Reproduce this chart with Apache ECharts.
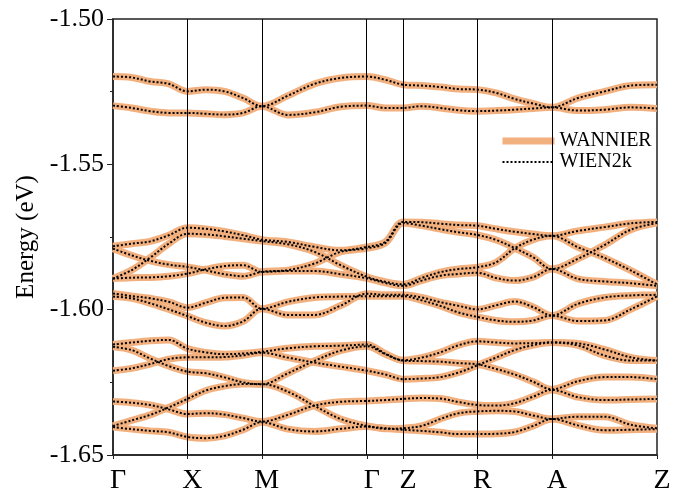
<!DOCTYPE html>
<html>
<head>
<meta charset="utf-8">
<script src="https://cdn.jsdelivr.net/npm/echarts@6/dist/echarts.min.js"></script>
</head>
<body style="margin:0">
<div id="main" style="width:678px;height:495px"></div>
<script>
// high symmetry points along the path
const kLabels = ['Γ', 'X', 'M', 'Γ', 'Z', 'R', 'A', 'Z'];
const kPoints = [0, 1, 2, 3.414, 3.9, 4.9, 5.9, 7.314];
// k sampling used for every band
const kPath = [0, 0.25, 0.5, 0.75, 1, 1.25, 1.5, 1.75, 2, 2.35, 2.71, 3.06, 3.414, 3.66, 3.9,
    4.15, 4.4, 4.65, 4.9, 5.15, 5.4, 5.65, 5.9, 6.25, 6.61, 6.96, 7.314];

// energies (eV)
const topBand1 = [-1.5198, -1.5201, -1.5215, -1.5223, -1.5249, -1.5243, -1.5249, -1.5272, -1.5300, -1.5264, -1.5223, -1.5203, -1.5198, -1.5209, -1.5226, -1.5229, -1.5234, -1.5241, -1.5243, -1.5254, -1.5275, -1.5291, -1.5304, -1.5272, -1.5249, -1.5229, -1.5226];
const topBand2 = [-1.5298, -1.5306, -1.5317, -1.5323, -1.5323, -1.5326, -1.5329, -1.5323, -1.5300, -1.5330, -1.5321, -1.5302, -1.5298, -1.5306, -1.5306, -1.5300, -1.5306, -1.5314, -1.5317, -1.5315, -1.5312, -1.5308, -1.5304, -1.5315, -1.5312, -1.5304, -1.5308];

const midBand1 = [-1.5782, -1.5773, -1.5765, -1.5744, -1.5718, -1.5722, -1.5731, -1.5744, -1.5759, -1.5767, -1.5784, -1.5796, -1.5784, -1.5767, -1.5698, -1.5699, -1.5704, -1.5709, -1.5711, -1.5722, -1.5732, -1.5740, -1.5746, -1.5729, -1.5716, -1.5703, -1.5698];
const midBand2 = [-1.5790, -1.5813, -1.5832, -1.5845, -1.5853, -1.5865, -1.5878, -1.5885, -1.5870, -1.5864, -1.5841, -1.5801, -1.5789, -1.5771, -1.5702, -1.5711, -1.5723, -1.5734, -1.5743, -1.5760, -1.5788, -1.5820, -1.5860, -1.5825, -1.5777, -1.5725, -1.5702];
const midBand3 = [-1.5893, -1.5864, -1.5821, -1.5773, -1.5739, -1.5741, -1.5748, -1.5756, -1.5764, -1.5775, -1.5801, -1.5847, -1.5887, -1.5904, -1.5913, -1.5891, -1.5871, -1.5860, -1.5854, -1.5837, -1.5789, -1.5759, -1.5746, -1.5785, -1.5822, -1.5865, -1.5913];
const midBand4 = [-1.5893, -1.5890, -1.5889, -1.5885, -1.5876, -1.5861, -1.5850, -1.5847, -1.5870, -1.5867, -1.5867, -1.5878, -1.5892, -1.5908, -1.5918, -1.5900, -1.5883, -1.5877, -1.5873, -1.5891, -1.5900, -1.5888, -1.5860, -1.5894, -1.5903, -1.5909, -1.5918];
const midBand5 = [-1.5944, -1.5953, -1.5961, -1.5973, -1.5993, -1.5976, -1.5959, -1.5958, -1.5997, -1.5973, -1.5958, -1.5955, -1.5954, -1.5954, -1.5954, -1.5968, -1.5987, -1.6010, -1.6025, -1.6037, -1.6042, -1.6037, -1.6020, -1.6039, -1.6037, -1.5999, -1.5954];
const midBand6 = [-1.5955, -1.5961, -1.5978, -1.5999, -1.6022, -1.6045, -1.6056, -1.6040, -1.5997, -1.6018, -1.6018, -1.5986, -1.5945, -1.5949, -1.5949, -1.5958, -1.5974, -1.5987, -1.5999, -1.5985, -1.5972, -1.5991, -1.6020, -1.5980, -1.5958, -1.5951, -1.5949];

const lowBand1 = [-1.6120, -1.6113, -1.6107, -1.6104, -1.6134, -1.6147, -1.6153, -1.6151, -1.6145, -1.6133, -1.6126, -1.6124, -1.6120, -1.6151, -1.6174, -1.6165, -1.6147, -1.6122, -1.6109, -1.6113, -1.6116, -1.6115, -1.6113, -1.6116, -1.6137, -1.6164, -1.6175];
const lowBand2 = [-1.6128, -1.6139, -1.6168, -1.6194, -1.6213, -1.6219, -1.6233, -1.6250, -1.6257, -1.6219, -1.6176, -1.6141, -1.6126, -1.6153, -1.6175, -1.6177, -1.6179, -1.6184, -1.6188, -1.6204, -1.6223, -1.6248, -1.6274, -1.6246, -1.6232, -1.6232, -1.6239];
const lowBand3 = [-1.6210, -1.6202, -1.6187, -1.6170, -1.6164, -1.6164, -1.6163, -1.6157, -1.6148, -1.6165, -1.6182, -1.6196, -1.6210, -1.6223, -1.6239, -1.6237, -1.6232, -1.6216, -1.6191, -1.6165, -1.6139, -1.6122, -1.6113, -1.6123, -1.6158, -1.6175, -1.6175];
const lowBand4 = [-1.6316, -1.6320, -1.6328, -1.6343, -1.6359, -1.6356, -1.6361, -1.6373, -1.6385, -1.6362, -1.6330, -1.6317, -1.6314, -1.6311, -1.6307, -1.6304, -1.6306, -1.6318, -1.6328, -1.6330, -1.6322, -1.6299, -1.6276, -1.6301, -1.6311, -1.6309, -1.6307];
const lowBand5 = [-1.6400, -1.6381, -1.6362, -1.6336, -1.6307, -1.6278, -1.6263, -1.6256, -1.6256, -1.6282, -1.6331, -1.6376, -1.6400, -1.6408, -1.6413, -1.6417, -1.6422, -1.6428, -1.6428, -1.6427, -1.6421, -1.6400, -1.6376, -1.6398, -1.6415, -1.6413, -1.6411];
const lowBand6 = [-1.6404, -1.6411, -1.6417, -1.6422, -1.6438, -1.6442, -1.6434, -1.6413, -1.6387, -1.6411, -1.6419, -1.6410, -1.6402, -1.6410, -1.6408, -1.6400, -1.6376, -1.6356, -1.6350, -1.6348, -1.6350, -1.6364, -1.6376, -1.6368, -1.6368, -1.6396, -1.6408];

const bands = [topBand1, topBand2, midBand1, midBand2, midBand3, midBand4, midBand5, midBand6,
    lowBand1, lowBand2, lowBand3, lowBand4, lowBand5, lowBand6];

const serif = "'Liberation Serif', serif";
var chart = echarts.init(document.getElementById('main'));

var series = [];
bands.forEach(function (b) {
    series.push({
        name: 'WANNIER',
        type: 'line',
        symbol: 'none',
        smooth: 0.35,
        z: 2,
        lineStyle: {color: '#F2B07F', width: 7},
        itemStyle: {color: '#F2B07F'},
        data: kPath.map(function (k, i) { return [k, b[i]]; })
    });
});
bands.forEach(function (b) {
    series.push({
        name: 'WIEN2k',
        type: 'line',
        symbol: 'none',
        smooth: 0.35,
        z: 3,
        lineStyle: {color: '#000', width: 2, type: [2, 2]},
        itemStyle: {color: '#000'},
        data: kPath.map(function (k, i) { return [k, b[i]]; })
    });
});
// vertical lines at the high symmetry points
series[0].markLine = {
    silent: true,
    symbol: 'none',
    label: {show: false},
    lineStyle: {color: '#000', width: 1, type: 'solid'},
    data: kPoints.slice(1, -1).map(function (v) { return {xAxis: v}; })
};

chart.setOption({
    animation: false,
    grid: {left: 113, right: 21, top: 19, bottom: 38, show: true, borderColor: '#222', borderWidth: 1.5},
    legend: {
        data: ['WANNIER', 'WIEN2k'],
        orient: 'vertical',
        left: 494,
        top: 126,
        itemWidth: 52,
        itemHeight: 12,
        itemGap: 1,
        itemStyle: {opacity: 0},
        lineStyle: {width: 'inherit'},
        textStyle: {fontFamily: serif, fontSize: 20, color: '#000', lineHeight: 20}
    },
    xAxis: {
        type: 'value',
        min: 0,
        max: kPoints[kPoints.length - 1],
        splitLine: {show: false},
        axisLine: {lineStyle: {color: '#222', width: 1.5}},
        axisTick: {customValues: kPoints, length: 4, lineStyle: {color: '#222'}},
        axisLabel: {
            customValues: kPoints,
            formatter: function (v) { return kLabels[kPoints.indexOf(v)]; },
            fontFamily: serif,
            fontSize: 28,
            color: '#000',
            margin: 12,
            padding: [0, 0, 0, 10]
        }
    },
    yAxis: {
        type: 'value',
        min: -1.65,
        max: -1.50,
        interval: 0.05,
        name: 'Energy (eV)',
        nameLocation: 'middle',
        nameGap: 73,
        nameTextStyle: {fontFamily: serif, fontSize: 25, color: '#000'},
        splitLine: {show: false},
        axisLine: {lineStyle: {color: '#222', width: 1.5}},
        axisTick: {length: 6, lineStyle: {color: '#222'}},
        minorTick: {show: true, splitNumber: 2, length: 3, lineStyle: {color: '#222'}},
        axisLabel: {
            formatter: function (v) { return v.toFixed(2); },
            fontFamily: serif,
            fontSize: 26,
            color: '#000',
            margin: 9
        }
    },
    series: series
});
</script>
</body>
</html>
